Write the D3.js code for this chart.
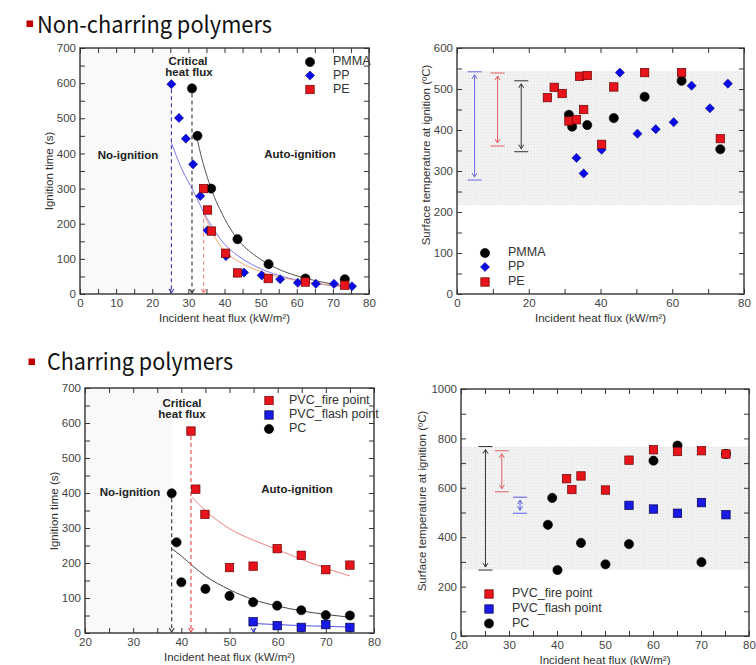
<!DOCTYPE html>
<html><head><meta charset="utf-8">
<script src="https://cdn.jsdelivr.net/npm/d3@7"></script>
<style>
html,body{margin:0;padding:0;background:#fff;}
svg{display:block;}
</style></head>
<body>
<svg id="c" width="756" height="665"></svg>
<script>
// ---------- DATA ----------
// Panel A (non-charring, ignition time vs heat flux)
const pmmaTime = [[31,585],[32.5,450],[36.3,300],[43.6,156],[52.2,85],[62.4,44],[73.3,42]];
const ppTime   = [[25.3,597],[27.4,501],[29.3,442],[31.3,369],[33.3,279],[35.3,181],[40.4,108],[45.4,61],[50.3,53],[55.4,42],[60.3,32],[65.3,29],[70.3,29],[75.3,22]];
const peTime   = [[34.2,300],[35.3,239],[36.4,179],[40.3,116],[43.6,60],[52.1,44],[62.4,34],[73.3,25]];
const pmmaFit  = [[32.1,455],[34,375],[36.3,300],[40,215],[43.6,156],[48,113],[52.2,85],[57,62],[62,46],[66,36],[70,28],[75,21]];
const ppFit    = [[25.3,430],[28,360],[31.4,292],[35,218],[40,142],[45,100],[50,72],[55,53],[60,40],[65,30],[70,24],[75,19]];
const peFit    = [[34.2,228],[36,190],[38,150],[40.6,117],[45,86],[50,64],[55,49],[62,35],[68,27],[75,20]];
const critA    = [[25.3,597,"pp"],[31,585,"pmma"],[34.2,228,"pe"]];
// Panel B (non-charring, surface temperature)
const pmmaTemp = [[31.2,437],[32.1,408],[36.3,412],[43.7,429],[52.3,481],[62.6,520],[73.4,353]];
const ppTemp   = [[33.3,332],[35.3,294],[40.3,352],[45.4,540],[50.3,391],[55.4,402],[60.4,419],[65.4,508],[70.5,453],[75.5,513]];
const peTemp   = [[25.2,479],[27.1,504],[29.3,489],[31.2,422],[33.3,425],[34.2,531],[35.3,450],[36.3,533],[40.3,365],[43.7,505],[52.3,540],[62.6,540],[73.4,379]];
const bandB    = [217,544];
const rangeB   = [[4.9,278,542,"pp"],[11.3,361,539,"pe"],[17.9,347,520,"pmma"]];
// Panel C (charring, ignition time)
const pvcFireTime  = [[42,577],[43,411],[44.9,339],[50,187],[54.9,191],[59.9,241],[64.9,222],[70,181],[75,194]];
const pvcFlashTime = [[54.9,32],[59.9,21],[64.9,16],[70,24],[75,16]];
const pcTime       = [[38,399],[39,259],[40,145],[45,126],[50,106],[54.9,88],[59.9,78],[64.9,65],[70,51],[75,50]];
const pvcFireFit   = [[42.2,388],[45,350],[50,298],[55,265],[60,238],[65,210],[70,185],[75,163]];
const pvcFlashFit  = [[55,27],[60,24],[65,21],[70,19],[75,17]];
const pcFit        = [[38.1,240],[40,220],[42.5,190],[45,163],[50,124],[55,95],[60,77],[65,63],[70,53],[75,45]];
const critC        = [[38,399,"pc"],[42,577,"fire"],[55,6,"flash"]];
// Panel D (charring, surface temperature)
const pvcFireTemp  = [[42,637],[43.1,593],[45,648],[50.1,591],[55,712],[60.1,754],[65.1,747],[70.1,750],[75.2,737]];
const pvcFlashTemp = [[55,529],[60.1,514],[65.1,497],[70.1,540],[75.2,491]];
const pcTemp       = [[38.1,450],[39,559],[40.1,267],[45,377],[50.1,290],[55,372],[60.1,710],[65.1,771],[70.1,299],[75.2,737]];
const bandD        = [267,767];
const rangeD       = [[25.1,267,767,"pc"],[28.5,584,750,"fire"],[32.3,497,562,"flash"]];

const titles = ["Non-charring polymers","Charring polymers"];
const xLabel = "Incident heat flux (kW/m\u00B2)";
const yLabelTime = "Ignition time (s)";
const yLabelTemp = "Surface temperature at  ignition (\u00BAC)";

// ---------- STYLE ----------
const FONT = "'Liberation Sans', Arial, sans-serif";
const col = {
  pmma:"#000000", pp:"#0a0ae6", pe:"#e8141c",
  fire:"#e8141c", flash:"#1a1ae6", pc:"#000000"
};
const fitCol = {pmma:"#555555", pp:"#7a7af0", pe:"#f4a070", fire:"#ee8080", flash:"#5050e0", pc:"#444444"};
const dashCol = {pmma:"#333333", pp:"#3a3ab0", pe:"#f08a8a", fire:"#e84040", flash:"#3030d0", pc:"#333333"};
const rangeCol = {pp:"#6a6ae8", pe:"#e86060", pmma:"#333333", pc:"#333333", fire:"#e06060", flash:"#5a5ae8"};

const svg = d3.select("#c");
const defs = svg.append("defs");
const pat = defs.append("pattern").attr("id","dots").attr("width",3).attr("height",3).attr("patternUnits","userSpaceOnUse");
pat.append("rect").attr("width",3).attr("height",3).attr("fill","#f5f5f5");
pat.append("rect").attr("x",0).attr("y",0).attr("width",1).attr("height",1).attr("fill","#dddddd");
pat.append("rect").attr("x",1.5).attr("y",1.5).attr("width",1).attr("height",1).attr("fill","#e4e4e4");

// Titles
function title(txt, x, yBase, bx, by, w){
  svg.append("rect").attr("x",bx).attr("y",by).attr("width",6.5).attr("height",6.5).attr("fill","#c00000");
  svg.append("text").attr("x",x).attr("y",yBase).text(txt)
    .attr("font-family","'Noto Sans CJK KR','Noto Sans',sans-serif").attr("font-size",23)
    .attr("textLength",w).attr("lengthAdjust","spacingAndGlyphs").attr("fill","#111");
}
title(titles[0], 37, 33, 26.5, 20.5, 235);
title(titles[1], 47, 370, 28.5, 358.5, 186);

function symbol(g, kind, x, y, c){
  if(kind==="circle"){
    g.append("circle").attr("cx",x).attr("cy",y).attr("r",4.6).attr("fill",c).attr("stroke","#000").attr("stroke-width",0.6);
  } else if(kind==="square"){
    const s=8.4;
    g.append("rect").attr("x",x-s/2).attr("y",y-s/2).attr("width",s).attr("height",s).attr("fill",c)
      .attr("stroke", c==="#e8141c" ? "#6a0000" : "#000050").attr("stroke-width",0.7);
  } else {
    const r=4.6;
    g.append("path").attr("d",`M${x},${y-r}L${x+r},${y}L${x},${y+r}L${x-r},${y}Z`).attr("fill",c).attr("stroke","#000070").attr("stroke-width",0.5);
  }
}

function panel(o){
  const g = svg.append("g");
  const x = d3.scaleLinear().domain(o.xd).range(o.xr);
  const y = d3.scaleLinear().domain(o.yd).range(o.yr);
  const [x0,x1]=o.xr, [y0,y1]=o.yr;
  if(o.bg){
    g.append("rect").attr("x",x0).attr("y",y1).attr("width",x(o.bg)-x0).attr("height",y0-y1).attr("fill","#f9f9f9");
  }
  if(o.band){
    g.append("rect").attr("x",x0).attr("y",y(o.band[1])).attr("width",x1-x0).attr("height",y(o.band[0])-y(o.band[1])).attr("fill","url(#dots)");
  }
  // axes
  const majX = d3.range(o.xd[0], o.xd[1]+0.001, o.xMaj);
  const minX = d3.range(o.xd[0], o.xd[1]+0.001, o.xMin);
  const majY = d3.range(o.yd[0], o.yd[1]+0.001, o.yMaj);
  const minY = d3.range(o.yd[0], o.yd[1]+0.001, o.yMin);
  const tickStyle = sel => { sel.selectAll(".domain").remove(); sel.selectAll("line").attr("stroke","#333").attr("stroke-width",1); sel.selectAll("text").attr("font-family",FONT).attr("font-size",11.5).attr("fill","#444"); };
  g.append("g").attr("transform",`translate(0,${y0})`).call(d3.axisBottom(x).tickValues(minX).tickSizeInner(-5).tickSizeOuter(0).tickFormat(""))
    .call(tickStyle);
  g.append("g").attr("transform",`translate(0,${y0})`).call(d3.axisBottom(x).tickValues(majX).tickSizeInner(0).tickSizeOuter(0).tickPadding(5).tickFormat(d3.format("d")))
    .call(tickStyle);
  g.append("g").attr("transform",`translate(0,${y1})`).call(d3.axisTop(x).tickValues(minX).tickSizeInner(-5).tickSizeOuter(0).tickFormat(""))
    .call(tickStyle);
  g.append("g").attr("transform",`translate(${x0},0)`).call(d3.axisLeft(y).tickValues(minY).tickSizeInner(-5).tickSizeOuter(0).tickFormat(""))
    .call(tickStyle);
  g.append("g").attr("transform",`translate(${x0},0)`).call(d3.axisLeft(y).tickValues(majY).tickSizeInner(0).tickSizeOuter(0).tickPadding(4).tickFormat(d3.format("d")))
    .call(tickStyle);
  g.append("g").attr("transform",`translate(${x1},0)`).call(d3.axisRight(y).tickValues(minY).tickSizeInner(-5).tickSizeOuter(0).tickFormat(""))
    .call(tickStyle);
  g.append("rect").attr("x",x0).attr("y",y1).attr("width",x1-x0).attr("height",y0-y1).attr("fill","none").attr("stroke","#333").attr("stroke-width",1.4);
  // labels
  g.append("text").attr("x",(x0+x1)/2).attr("y",y0+28).attr("text-anchor","middle").attr("font-family",FONT).attr("font-size",11.5).attr("fill","#333").text(xLabel);
  g.append("text").attr("transform",`translate(${o.ylx},${o.yly}) rotate(-90)`).attr("text-anchor","middle").attr("dominant-baseline","middle").attr("font-family",FONT).attr("font-size",11.5).attr("fill","#333").text(o.ylab);
  return {g,x,y};
}

function dashedDrop(p, list){
  list.forEach(([xv,yv,k])=>{
    const xx=p.x(xv), yTop=p.y(yv)+ (k==="flash"?0:5), yb=p.y(0);
    if(k!=="flash") p.g.append("line").attr("x1",xx).attr("x2",xx).attr("y1",yTop).attr("y2",yb-1).attr("stroke",dashCol[k]).attr("stroke-width",1.1).attr("stroke-dasharray","4,3");
    p.g.append("path").attr("d",`M${xx-2.5},${yb-5}L${xx},${yb-1}L${xx+2.5},${yb-5}`).attr("fill","none").attr("stroke",dashCol[k]).attr("stroke-width",1.1);
  });
}
function fit(p, data, k){
  p.g.append("path").datum(data).attr("fill","none").attr("stroke",fitCol[k]).attr("stroke-width",1)
    .attr("d", d3.line().x(d=>p.x(d[0])).y(d=>p.y(d[1])).curve(d3.curveMonotoneX));
}
function pts(p, data, kind, k){
  data.forEach(d=>symbol(p.g, kind, p.x(d[0]), p.y(d[1]), col[k]));
}
function legend(p, items, mx, tx, ys){
  items.forEach((it,i)=>{
    symbol(p.g, it[1], mx, ys[i], col[it[2]]);
    p.g.append("text").attr("x",tx).attr("y",ys[i]).attr("dominant-baseline","middle").attr("font-family",FONT).attr("font-size",12.5).attr("fill","#333").text(it[0]);
  });
}
function rangeArrows(p, list){
  list.forEach(([xv,lo,hi,k])=>{
    const xx=p.x(xv), a=p.y(hi), b=p.y(lo), c=rangeCol[k];
    const g=p.g;
    g.append("line").attr("x1",xx-7).attr("x2",xx+7).attr("y1",a).attr("y2",a).attr("stroke",c).attr("stroke-width",1);
    g.append("line").attr("x1",xx-7).attr("x2",xx+7).attr("y1",b).attr("y2",b).attr("stroke",c).attr("stroke-width",1);
    g.append("line").attr("x1",xx).attr("x2",xx).attr("y1",a+3).attr("y2",b-3).attr("stroke",c).attr("stroke-width",1);
    g.append("path").attr("d",`M${xx-2.5},${a+7}L${xx},${a+3}L${xx+2.5},${a+7}M${xx-2.5},${b-7}L${xx},${b-3}L${xx+2.5},${b-7}`).attr("fill","none").attr("stroke",c).attr("stroke-width",1);
  });
}
function bold(p, txt, x, y){
  p.g.append("text").attr("x",x).attr("y",y).attr("text-anchor","middle").attr("dominant-baseline","middle")
    .attr("font-family",FONT).attr("font-weight","bold").attr("font-size",11.5).attr("fill","#222").text(txt);
}

// ---- Panel A
const A = panel({xd:[0,80], xr:[80,369], yd:[0,700], yr:[294,48], xMaj:10, xMin:5, yMaj:100, yMin:50,
  ylab:yLabelTime, ylx:50, yly:171, bg:25});
fit(A, pmmaFit, "pmma"); fit(A, ppFit, "pp"); fit(A, peFit, "pe");
dashedDrop(A, critA);
pts(A, pmmaTime, "circle", "pmma"); pts(A, ppTime, "diamond", "pp"); pts(A, peTime, "square", "pe");
bold(A,"Critical",188,62); bold(A,"heat flux",189,73);
bold(A,"No-ignition",128,156); bold(A,"Auto-ignition",300,155);
legend(A, [["PMMA","circle","pmma"],["PP","diamond","pp"],["PE","square","pe"]], 310, 333, [62,75.5,89.5]);

// ---- Panel B
const B = panel({xd:[0,80], xr:[457,744], yd:[0,600], yr:[294,48], xMaj:20, xMin:10, yMaj:100, yMin:50,
  ylab:yLabelTemp, ylx:427, yly:155, band:bandB});
rangeArrows(B, rangeB);
pts(B, pmmaTemp, "circle", "pmma"); pts(B, ppTemp, "diamond", "pp"); pts(B, peTemp, "square", "pe");
legend(B, [["PMMA","circle","pmma"],["PP","diamond","pp"],["PE","square","pe"]], 485, 508, [253,267,282]);

// ---- Panel C
const C = panel({xd:[20,80], xr:[85,374], yd:[0,700], yr:[633,388], xMaj:10, xMin:5, yMaj:100, yMin:50,
  ylab:yLabelTime, ylx:55, yly:511, bg:38});
fit(C, pvcFireFit, "fire"); fit(C, pvcFlashFit, "flash"); fit(C, pcFit, "pc");
dashedDrop(C, critC);
pts(C, pvcFireTime, "square", "fire"); pts(C, pvcFlashTime, "square", "flash"); pts(C, pcTime, "circle", "pc");
bold(C,"Critical",182,404); bold(C,"heat flux",182,414.5);
bold(C,"No-ignition",130,493); bold(C,"Auto-ignition",297,490);
legend(C, [["PVC_fire point","square","fire"],["PVC_flash point","square","flash"],["PC","circle","pc"]], 269, 289, [400.5,415,429]);

// ---- Panel D
const D = panel({xd:[20,80], xr:[461,749], yd:[0,1000], yr:[636,389], xMaj:10, xMin:5, yMaj:200, yMin:100,
  ylab:yLabelTemp, ylx:423, yly:501, band:bandD});
rangeArrows(D, rangeD);
pts(D, pcTemp, "circle", "pc"); pts(D, pvcFireTemp, "square", "fire"); pts(D, pvcFlashTemp, "square", "flash");
legend(D, [["PVC_fire point","square","fire"],["PVC_flash point","square","flash"],["PC","circle","pc"]], 489, 512, [594,609,623.5]);
</script>
</body></html>
